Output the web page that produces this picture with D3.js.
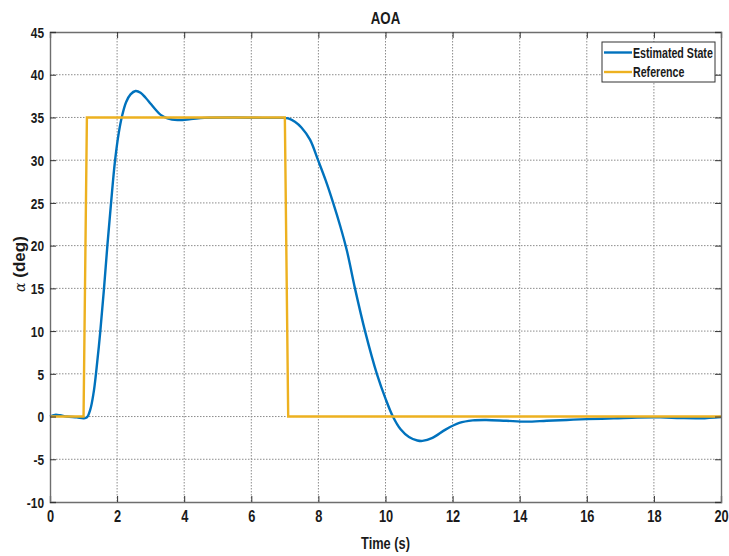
<!DOCTYPE html>
<html>
<head>
<meta charset="utf-8">
<script src="https://cdn.jsdelivr.net/npm/d3@7/dist/d3.min.js"></script>
<style>
  html, body { margin: 0; padding: 0; background: #fff; }
  svg { display: block; }
  .lbl { font-family: "Liberation Sans", Arial, sans-serif; font-weight: bold; fill: #1a1a1a; }
</style>
</head>
<body>
<svg id="chart" width="729" height="556"></svg>
<script>
// Angle-of-attack response: estimated state vs. reference command
const timeEst = [0, 0.15, 0.3, 0.5, 0.8, 1.0, 1.1, 1.2, 1.3, 1.37, 1.5, 1.61, 1.71, 1.82, 1.94, 2.05, 2.15, 2.27, 2.4, 2.55, 2.7, 2.85, 3.0, 3.15, 3.3, 3.5, 3.8, 4.2, 4.6, 5.5, 6.5, 6.9, 7.1, 7.3, 7.5, 7.75, 7.99, 8.22, 8.44, 8.65, 8.85, 9.09, 9.39, 9.75, 10.0, 10.22, 10.45, 10.7, 10.95, 11.1, 11.4, 11.8, 12.2, 12.6, 13.0, 13.6, 14.2, 14.8, 15.4, 16.0, 16.8, 17.5, 18.2, 18.8, 19.4, 20.0];
const alphaEst = [0, 0.2, 0.15, 0.0, -0.1, -0.2, -0.1, 0.8, 2.8, 5, 10, 15, 20, 25, 30, 33.2, 35.2, 36.8, 37.7, 38.1, 37.9, 37.3, 36.6, 35.9, 35.3, 34.9, 34.7, 34.8, 34.95, 35.0, 34.95, 34.95, 34.9, 34.5, 33.8, 32.4, 30, 27.6, 25, 22.3, 19.4, 15, 10, 4.9, 2.1, 0, -1.5, -2.4, -2.8, -2.85, -2.5, -1.5, -0.75, -0.45, -0.4, -0.5, -0.6, -0.5, -0.4, -0.3, -0.22, -0.12, -0.1, -0.18, -0.2, -0.05];

const timeRef = [0, 1.0, 1.1, 7.0, 7.1, 20];
const alphaRef = [0, 0, 35, 35, 0, 0];

const xTicks = [0, 2, 4, 6, 8, 10, 12, 14, 16, 18, 20];
const yTicks = [-10, -5, 0, 5, 10, 15, 20, 25, 30, 35, 40, 45];

const seriesNames = ["Estimated State", "Reference"];
const seriesColors = ["#0072BD", "#EDB120"];

const svg = d3.select("#chart");
const m = { left: 50, right: 8, top: 32, bottom: 54 };
const W = 729, H = 556;

const x = d3.scaleLinear().domain([0, 20]).range([m.left, W - m.right]);
const y = d3.scaleLinear().domain([-10, 45]).range([H - m.bottom, m.top]);

const x0 = x.range()[0], x1 = x.range()[1];
const y0 = y.range()[0], y1 = y.range()[1];

// squeeze horizontal labels to a narrow width
function condense(sel, f) {
  sel.each(function () {
    const w = this.getComputedTextLength();
    d3.select(this).attr("textLength", w * f).attr("lengthAdjust", "spacingAndGlyphs");
  });
}

// background
svg.append("rect").attr("x", x0).attr("y", y1).attr("width", x1 - x0).attr("height", y0 - y1).attr("fill", "#fff");

// grid
const grid = svg.append("g");
grid.selectAll(".gx").data(xTicks.slice(1, -1)).join("line")
  .attr("x1", d => x(d)).attr("x2", d => x(d)).attr("y1", y1).attr("y2", y0)
  .attr("stroke", "#8c8c8c").attr("stroke-width", 1).attr("stroke-dasharray", "1.5,1.5");
grid.selectAll(".gy").data(yTicks.slice(1, -1)).join("line")
  .attr("x1", x0).attr("x2", x1).attr("y1", d => y(d)).attr("y2", d => y(d))
  .attr("stroke", "#8c8c8c").attr("stroke-width", 1).attr("stroke-dasharray", "1.5,1.5");

// lines
const line = d3.line().x(d => x(d[0])).y(d => y(d[1])).curve(d3.curveCatmullRom.alpha(0.5));
const lineLin = d3.line().x(d => x(d[0])).y(d => y(d[1]));

svg.append("path").datum(timeEst.map((t, i) => [t, alphaEst[i]]))
  .attr("d", line).attr("fill", "none").attr("stroke", seriesColors[0])
  .attr("stroke-width", 2.4).attr("stroke-linejoin", "round");

svg.append("path").datum(timeRef.map((t, i) => [t, alphaRef[i]]))
  .attr("d", lineLin).attr("fill", "none").attr("stroke", seriesColors[1])
  .attr("stroke-width", 2.4).attr("stroke-linejoin", "miter");

// axes (ticks inside the box, on all four sides)
const tickLen = 6;
const fmt = d => String(d);
const axB = svg.append("g").attr("transform", `translate(0,${y0})`)
  .call(d3.axisBottom(x).tickValues(xTicks).tickSize(-tickLen).tickPadding(10).tickFormat(fmt));
const axT = svg.append("g").attr("transform", `translate(0,${y1})`)
  .call(d3.axisTop(x).tickValues(xTicks).tickSize(-tickLen).tickFormat(""));
const axL = svg.append("g").attr("transform", `translate(${x0},0)`)
  .call(d3.axisLeft(y).tickValues(yTicks).tickSize(-tickLen).tickPadding(6).tickFormat(fmt));
const axR = svg.append("g").attr("transform", `translate(${x1},0)`)
  .call(d3.axisRight(y).tickValues(yTicks).tickSize(-tickLen).tickFormat(""));

[axB, axT, axL, axR].forEach(a => {
  a.select(".domain").attr("stroke", "#6e6e6e").attr("stroke-width", 1.4);
  a.selectAll(".tick line").attr("stroke", "#333").attr("stroke-width", 1);
  a.selectAll("text").attr("class", "lbl").attr("fill", "#1a1a1a");
});
axB.selectAll("text").style("font-size", "16px").attr("dy", "0.6em");
axL.selectAll("text").style("font-size", "14.5px").attr("dy", "0.36em");
condense(axB.selectAll("text"), 0.8);
condense(axL.selectAll("text"), 0.82);

// title and axis labels
const title = svg.append("text").attr("class", "lbl").attr("x", (x0 + x1) / 2).attr("y", 24)
  .attr("text-anchor", "middle").style("font-size", "17px").text("AOA");
condense(title, 0.78);

const xl = svg.append("text").attr("class", "lbl").attr("x", (x0 + x1) / 2).attr("y", 549)
  .attr("text-anchor", "middle").style("font-size", "16px").text("Time (s)");
condense(xl, 0.8);

const yl = svg.append("text").attr("class", "lbl")
  .attr("transform", `translate(25,${(y0 + y1) / 2 - 3}) rotate(-90)`)
  .attr("text-anchor", "middle").style("font-size", "17px");
yl.append("tspan").style("font-family", "'DejaVu Serif', 'Liberation Serif', serif")
  .style("font-style", "italic").style("font-weight", "normal").style("font-size", "14px").text("α");
yl.append("tspan").text(" (deg)");

// legend
const lg = svg.append("g");
const lgX = 602, lgY = 42, lgW = 113, lgH = 40;
lg.append("rect").attr("x", lgX).attr("y", lgY).attr("width", lgW).attr("height", lgH)
  .attr("fill", "#fff").attr("stroke", "#333").attr("stroke-width", 1);
seriesNames.forEach((name, i) => {
  const cy = lgY + 10.5 + i * 19.5;
  lg.append("line").attr("x1", lgX + 2).attr("x2", lgX + 30).attr("y1", cy).attr("y2", cy)
    .attr("stroke", seriesColors[i]).attr("stroke-width", 2.4);
  const t = lg.append("text").attr("class", "lbl").attr("x", lgX + 31).attr("y", cy)
    .attr("dy", "0.36em").style("font-size", "14px").text(name);
  condense(t, 0.76);
});
</script>
</body>
</html>
